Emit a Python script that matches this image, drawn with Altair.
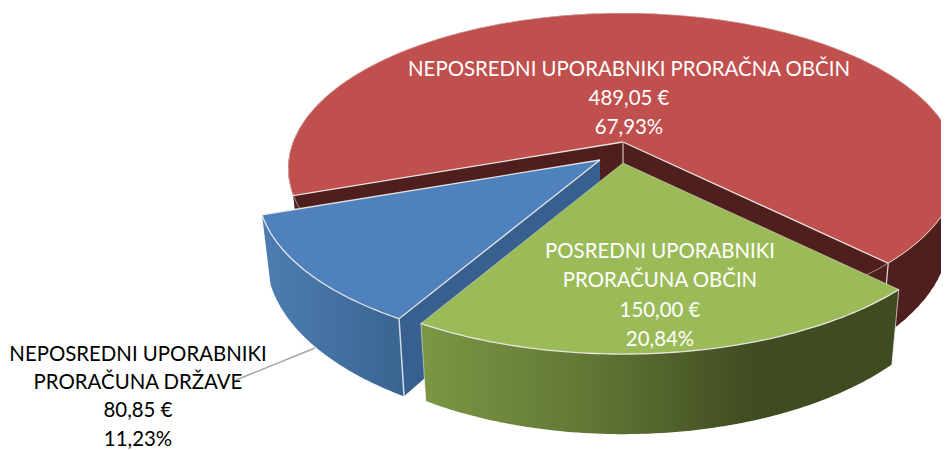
import numpy as np
import altair as alt

# Data
categories = ["POSREDNI UPORABNIKI PRORAČUNA OBČIN", "NEPOSREDNI UPORABNIKI PRORAČUNA DRŽAVE", "NEPOSREDNI UPORABNIKI PRORAČNA OBČIN"]
amounts = [150.00, 80.85, 489.05]
shares = [20.84, 11.23, 67.93]
red_label = ["NEPOSREDNI UPORABNIKI PRORAČNA OBČIN", "489,05 €", "67,93%"]
green_label = ["POSREDNI UPORABNIKI", "PRORAČUNA OBČIN", "150,00 €", "20,84%"]
blue_label = ["NEPOSREDNI UPORABNIKI", "PRORAČUNA DRŽAVE", "80,85 €", "11,23%"]

# 3D look of the pie: perspective of a tilted disc, per slice (A, B, K)
P_RED, P_GREEN, P_BLUE = (330.0, 150.9, 0.17), (338.0, 155.0, 0.1887), (336.0, 153.3, 0.1887)
H, SHRINK = 65.0, 0.975
START = np.radians(45.0)   # first slice starts 45° right of the front
OFF = 8.0                  # page margin

total = sum(shares)
sweeps = [2 * np.pi * s / total for s in shares]
g0, g1 = START, START - sweeps[0]
b0, b1 = g1, g1 - sweeps[1]
r0, r1 = b1, b1 - sweeps[2]

def top(c, t):
    (x, y), (A, B, K) = c
    u, w = np.sin(t), np.cos(t)
    d = 1 - K * w
    return [float(x + A * u / d), float(y + B * w / d)]

def bot(c, t):
    (x, y), (A, B, K) = c
    u, w = np.sin(t), np.cos(t)
    d = 1 - K * w
    return [float(x + SHRINK * A * u / d), float(y + (B * w + H) / d)]

def arc(f, c, a, b, n=90):
    return [f(c, t) for t in np.linspace(a, b, n)]

def apex(c):
    return list(c[0])

def cbot(c):
    return [c[0][0], c[0][1] + H]

def shape(kind, coords):
    geom = {"type": kind, "coordinates": [coords + [coords[0]]] if kind == "Polygon" else coords}
    return alt.InlineData(values=[{"type": "Feature", "properties": {}, "geometry": geom}],
                          format=alt.DataFormat(type="json"))

PROJ = dict(type="identity", scale=1, translate=[-OFF, -OFF])

def poly(coords, fill):
    return alt.Chart(shape("Polygon", coords)).mark_geoshape(filled=True, fill=fill, strokeWidth=0).project(**PROJ)

def line(coords, color="#f3eeee", width=1.3, opacity=0.9):
    return alt.Chart(shape("LineString", coords)).mark_geoshape(
        filled=False, stroke=color, strokeWidth=width, strokeOpacity=opacity).project(**PROJ)

def grad(stops):
    return alt.Gradient(gradient="linear", x1=0, x2=1, y1=0, y2=0,
                        stops=[alt.GradientStop(offset=o, color=c) for o, c in stops])

c_red, c_green, c_blue = ((623.0, 142.0), P_RED), ((623.0, 163.0), P_GREEN), ((600.0, 160.0), P_BLUE)
DARK_RED = "#4e1f1d"
layers = []

# red slice: goes from the left end over the back to the right end
layers += [
    poly(arc(top, c_red, r1, np.pi/2 + 0.05) + arc(bot, c_red, np.pi/2 + 0.05, r1), DARK_RED),
    poly(arc(top, c_red, r0, -np.pi/2 - 0.05) + arc(bot, c_red, -np.pi/2 - 0.05, r0), DARK_RED),
    poly([apex(c_red), top(c_red, r1), bot(c_red, r1), cbot(c_red)], DARK_RED),
    poly([apex(c_red), top(c_red, r0), bot(c_red, r0), cbot(c_red)], DARK_RED),
    poly([apex(c_red)] + arc(top, c_red, r0, r1, 220), "#c0504d"),
    line([apex(c_red), top(c_red, r1)]),
    line([apex(c_red), top(c_red, r0)]),
    line([top(c_red, r1), bot(c_red, r1)], width=1.2),
    line(arc(top, c_red, r1, np.pi/2 + 0.05), width=0.9, opacity=0.6),
    line([apex(c_red), [623.0, 163.0]], color="#b59a98", width=1.6, opacity=1),
]
# blue slice
layers += [
    poly([apex(c_blue), top(c_blue, b0), bot(c_blue, b0), cbot(c_blue)], "#38608e"),
    poly(arc(top, c_blue, b1, b0) + arc(bot, c_blue, b0, b1),
         grad([(0, "#4d7cb1"), (0.5, "#4371a3"), (1, "#3a648f")])),
    poly([apex(c_blue)] + arc(top, c_blue, b0, b1), "#4f81bd"),
    line([apex(c_blue), top(c_blue, b0)]),
    line([apex(c_blue), top(c_blue, b1)]),
    line(arc(top, c_blue, b0, b1)),
    line([top(c_blue, b0), bot(c_blue, b0)], color="#dfe8f2", width=1.5),
]
# green slice
layers += [
    poly(arc(top, c_green, g1, g0) + arc(bot, c_green, g0, g1),
         grad([(0, "#7b9745"), (0.35, "#627735"), (0.7, "#3f4b21"), (1, "#3f4b21")])),
    poly([apex(c_green)] + arc(top, c_green, g0, g1), "#9bbb59"),
    line(arc(top, c_green, g0, g1)),
    line([apex(c_green), top(c_green, g0)], width=0.8, opacity=0.6),
    line([apex(c_green), top(c_green, g1)], width=0.8, opacity=0.5),
    line([top(c_green, g1), bot(c_green, g1)], width=0.9, opacity=0.6),
    line([top(c_green, g0), bot(c_green, g0)], width=1.0, opacity=0.7),
]
# leader line of the outside label
layers.append(line([[315.0, 348.0], [236.0, 380.0]], color="#a6a6a6", width=1.5, opacity=1))

def text(lines, cx, cy, dy, color):
    rows = [{"t": s, "px": cx - OFF, "py": cy + i * dy - OFF} for i, s in enumerate(lines)]
    return alt.Chart(alt.Data(values=rows)).mark_text(
        font="Lato", fontSize=20.4, color=color, align="center", baseline="middle"
    ).encode(x=alt.X("px:Q", scale=None), y=alt.Y("py:Q", scale=None), text="t:N")

layers += [
    text(red_label, 629, 69.5, 29, "white"),
    text(green_label, 660, 252, 29.3, "white"),
    text(blue_label, 138, 355, 28.2, "black"),
]

chart = alt.layer(*layers).properties(width=933, height=442, padding=0, background="white",
    autosize=alt.AutoSizeParams(type="none")).configure_view(stroke=None)
chart.save("out.html", embed_options={"renderer": "svg", "actions": False})
